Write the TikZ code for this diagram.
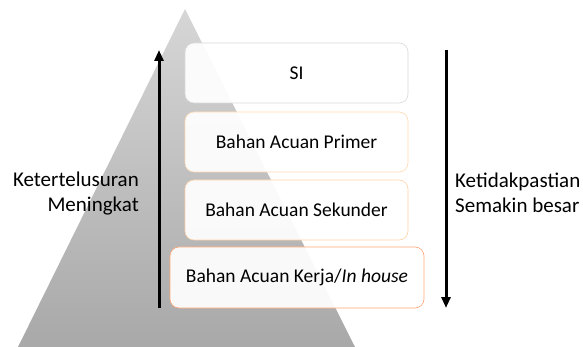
\documentclass[tikz,border=0pt]{standalone}
\usepackage{fontspec}
\setmainfont{Carlito}
\usetikzlibrary{arrows.meta}
\begin{document}
\begin{tikzpicture}[x=1pt,y=-1pt,
  lvl/.style={draw,rounded corners=9pt,fill=white,fill opacity=0.93,text opacity=1,line width=0.6pt,
    minimum width=223pt,minimum height=60pt,font=\fontsize{19.5}{23}\selectfont,inner sep=0pt},
  lbl/.style={font=\fontsize{21}{25}\selectfont,inner sep=0pt},
  bigarrow/.style={line width=3pt,-{Triangle[width=9pt,length=11pt]}}]
\useasboundingbox (0,0) rectangle (583,347);
\shade[top color=gray!32,bottom color=gray!68] (185,9) -- (355,347) -- (18,347) -- cycle;
\node[lvl,draw=gray!30] (si) at (296.5,73) {SI};
\node[lvl,draw=orange!30] (primer) at (296.5,142) {Bahan Acuan Primer};
\node[lvl,draw=orange!35] (sekunder) at (296.5,210) {Bahan Acuan Sekunder};
\node[lvl,draw=red!30!orange!55,minimum width=254pt,minimum height=61pt] (kerja) at (297,277.5) {Bahan Acuan Kerja/\textit{In house}};
\coordinate (la) at (159,308);
\coordinate (lb) at (159,50);
\coordinate (ra) at (446,50);
\coordinate (rb) at (446,308);
\draw[bigarrow] (la) -- (lb);
\draw[bigarrow] (ra) -- (rb);
\node[lbl,align=right,anchor=east] (left) at (139,194) {Ketertelusuran\\Meningkat};
\node[lbl,align=left,anchor=west] (right) at (455,193) {Ketidakpastian\\Semakin besar};
\end{tikzpicture}
\end{document}
